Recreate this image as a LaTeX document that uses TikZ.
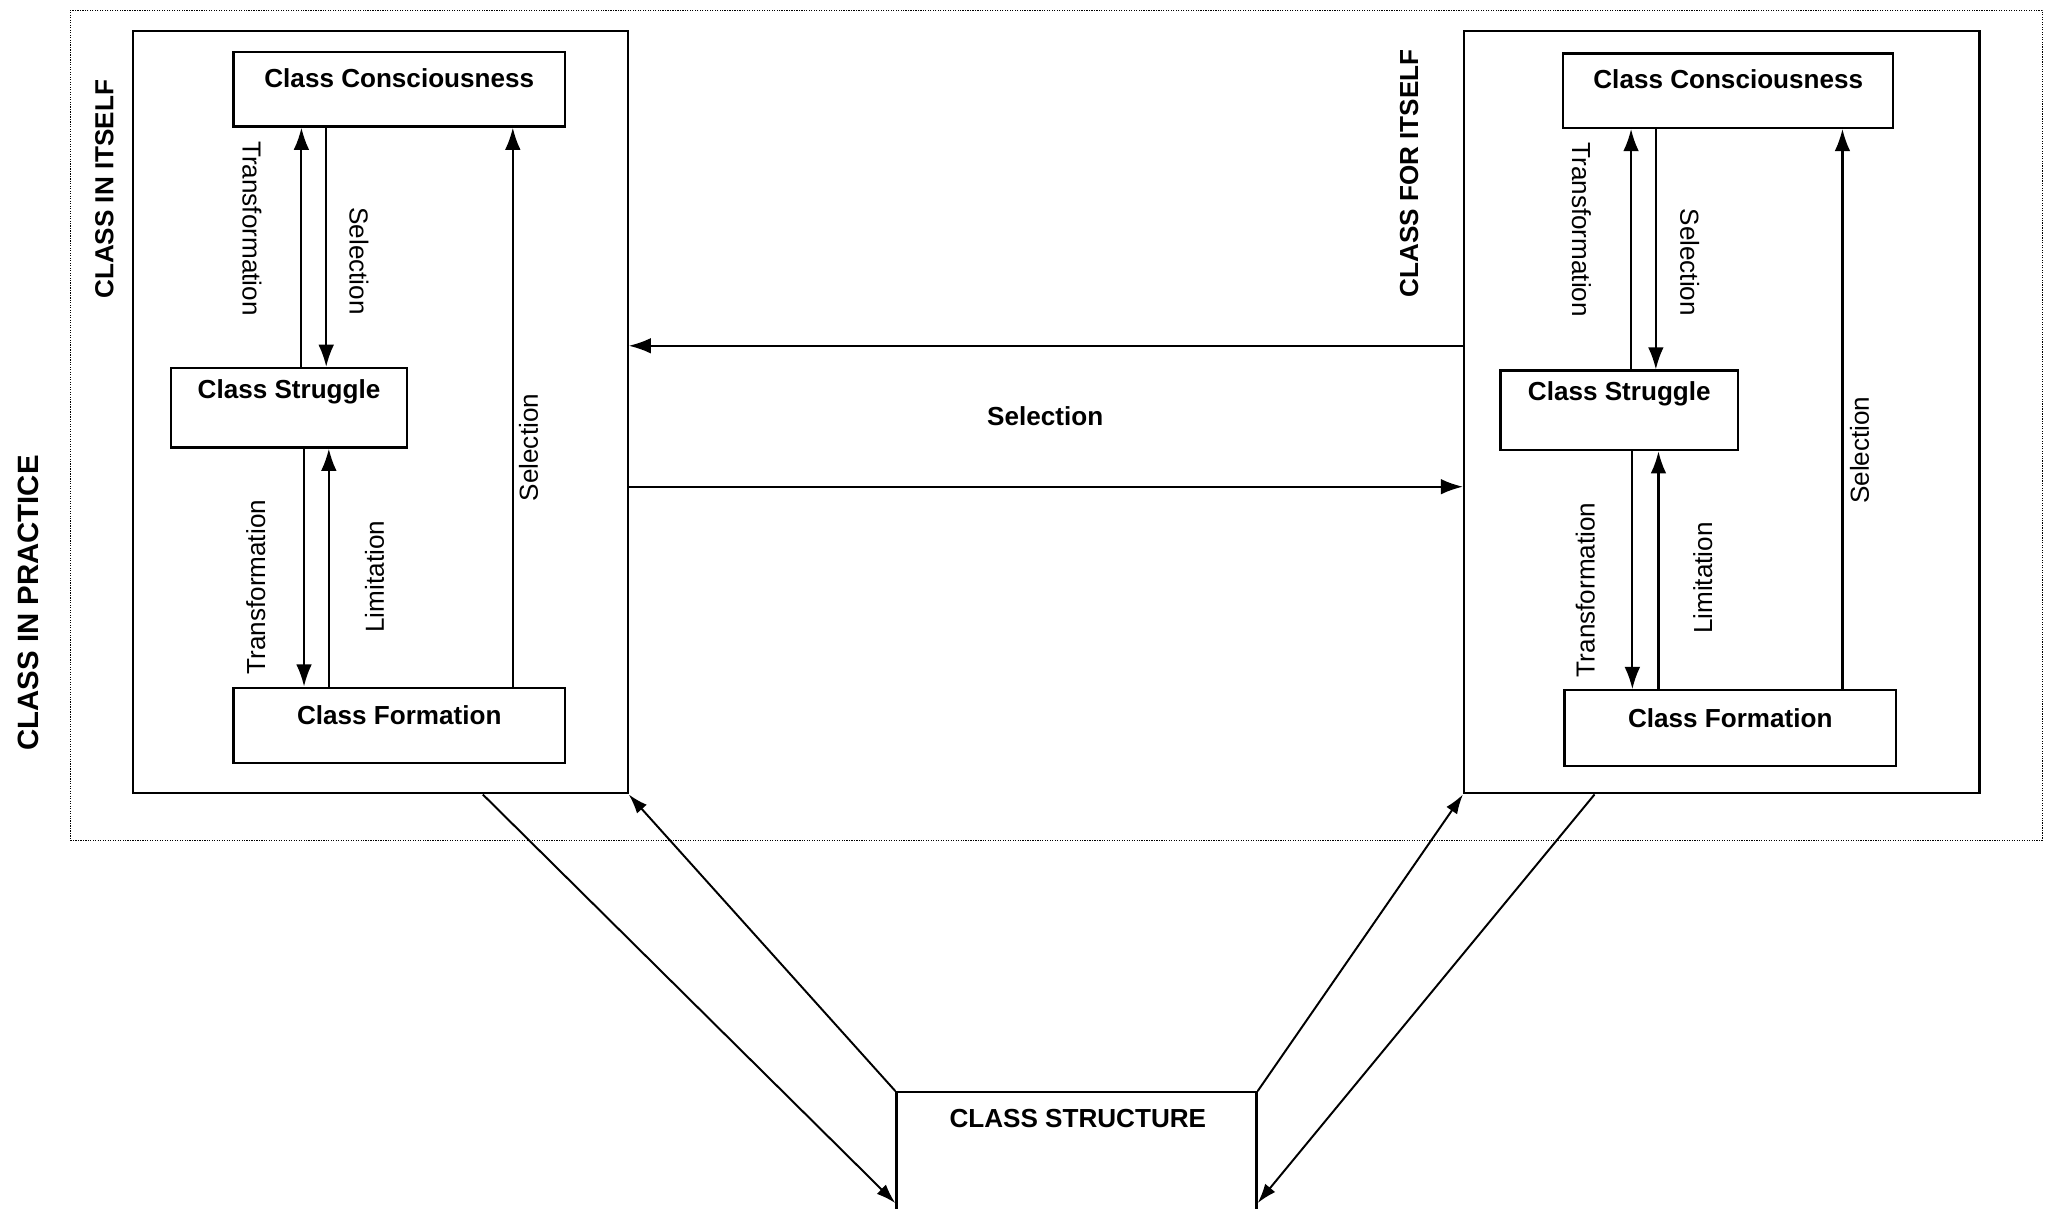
\documentclass[tikz,border=0pt]{standalone}
\usepackage{fontspec}
\setmainfont{Liberation Sans}
\usetikzlibrary{arrows.meta,calc}
\begin{document}
\begin{tikzpicture}[x=1pt,y=-1pt,
  box/.style={draw, line width=1.7pt, inner sep=0pt},
  btxt/.style={font=\fontsize{20}{24}\selectfont\bfseries, inner sep=0pt},
  ltxt/.style={font=\fontsize{20}{24}\selectfont, inner sep=0pt},
  arr/.style={line width=1.6pt, -{Latex[length=17pt,width=12pt]}},
  darr/.style={line width=1.5pt, -{Latex[length=15pt,width=10pt]}}]
\useasboundingbox[fill=white] (0,0) rectangle (1568,926);

% outer dotted frame
\node[draw, densely dotted, line width=0.9pt, minimum width=1511pt, minimum height=636pt, inner sep=0pt] (frame) at (809.5,326) {};

% big boxes
\node[box, minimum width=379pt, minimum height=584pt] (lbig) at (291.5,316) {};
\node[box, minimum width=395pt, minimum height=584pt] (rbig) at (1319.5,316) {};

% inner boxes left
\node[box, minimum width=254pt, minimum height=57pt] (lcc) at (306,68.5) {};
\node[box, minimum width=181pt, minimum height=61pt] (lcs) at (221.5,312.5) {};
\node[box, minimum width=254pt, minimum height=58pt] (lcf) at (306,556) {};
% inner boxes right
\node[box, minimum width=253pt, minimum height=57pt] (rcc) at (1324.5,69.5) {};
\node[box, minimum width=182pt, minimum height=61pt] (rcs) at (1241,314.5) {};
\node[box, minimum width=254pt, minimum height=58pt] (rcf) at (1326,558) {};
% class structure
\node[box, minimum width=276pt, minimum height=108pt] (cs) at (825,891) {};

% box texts
\node[btxt] (lcct) at (306,60) {Class Consciousness};
\node[btxt] (lcst) at (221.5,300) {Class Struggle};
\node[btxt] (lcft) at (306,548) {Class Formation};
\node[btxt] (rcct) at (1324.5,61) {Class Consciousness};
\node[btxt] (rcst) at (1241,302) {Class Struggle};
\node[btxt] (rcft) at (1326,550) {Class Formation};
\node[btxt] (cst) at (826,857) {CLASS STRUCTURE};
\node[btxt] (selt) at (801,319) {Selection};

% side titles
\node[btxt, rotate=90] (tin) at (80,145) {CLASS IN ITSELF};
\node[btxt, rotate=90] (tfor) at (1080,133) {CLASS FOR ITSELF};
\node[btxt, rotate=90, font=\fontsize{22.5}{26}\selectfont\bfseries] (tprac) at (22,462) {CLASS IN PRACTICE};

% arrow labels left
\node[ltxt, rotate=-90] (l1) at (193,175) {Transformation};
\node[ltxt, rotate=-90] (l2) at (275,200) {Selection};
\node[ltxt, rotate=90] (l3) at (196,450) {Transformation};
\node[ltxt, rotate=90] (l4) at (287,442) {Limitation};
\node[ltxt, rotate=90] (l5) at (405,343) {Selection};
% arrow labels right
\node[ltxt, rotate=-90] (r1) at (1212,176) {Transformation};
\node[ltxt, rotate=-90] (r2) at (1295,201) {Selection};
\node[ltxt, rotate=90] (r3) at (1215,452) {Transformation};
\node[ltxt, rotate=90] (r4) at (1305,443) {Limitation};
\node[ltxt, rotate=90] (r5) at (1425,345) {Selection};

% left arrows
\draw[arr] (lcs.north -| 231,0) -- (lcc.south -| 231,0);
\draw[arr] (lcc.south -| 250,0) -- (lcs.north -| 250,0);
\draw[arr] (lcs.south -| 233,0) -- (lcf.north -| 233,0);
\draw[arr] (lcf.north -| 252,0) -- (lcs.south -| 252,0);
\draw[arr] (lcf.north -| 393,0) -- (lcc.south -| 393,0);
% right arrows
\draw[arr] (rcs.north -| 1250,0) -- (rcc.south -| 1250,0);
\draw[arr] (rcc.south -| 1269,0) -- (rcs.north -| 1269,0);
\draw[arr] (rcs.south -| 1251,0) -- (rcf.north -| 1251,0);
\draw[arr] (rcf.north -| 1271,0) -- (rcs.south -| 1271,0);
\draw[arr] (rcf.north -| 1412,0) -- (rcc.south -| 1412,0);

% horizontal
\draw[arr] (rbig.west |- 0,265) -- (lbig.east |- 0,265);
\draw[arr] (lbig.east |- 0,373) -- (rbig.west |- 0,373);

% diagonals
\coordinate (csbl) at (cs.west |- 0,922);
\coordinate (csbr) at (cs.east |- 0,922);
\draw[darr] (lbig.south -| 370,0) -- (csbl);
\draw[darr] (cs.north west) -- (lbig.south east);
\draw[darr] (cs.north east) -- (rbig.south west);
\draw[darr] (rbig.south -| 1222,0) -- (csbr);
\end{tikzpicture}
\end{document}
